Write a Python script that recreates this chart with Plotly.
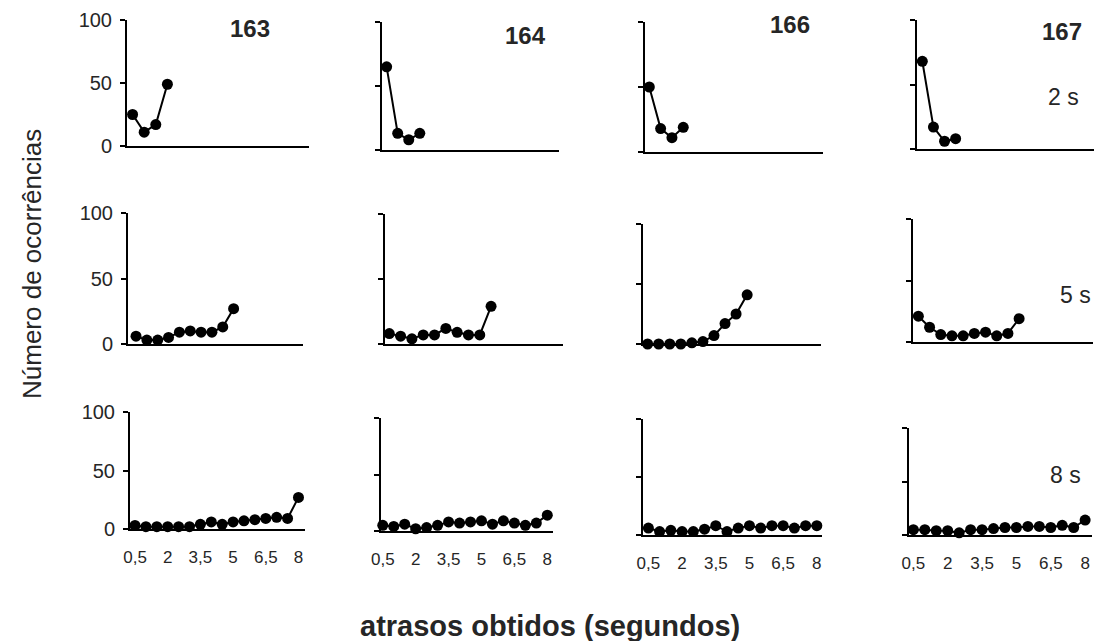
import plotly.graph_objects as go

W, H = 1097, 641

# ---------------- data ----------------
subjects = ["163", "164", "166", "167"]
delay_labels = ["2 s", "5 s", "8 s"]

x_2s = [0.5, 1, 1.5, 2]
x_5s = [0.5, 1, 1.5, 2, 2.5, 3, 3.5, 4, 4.5, 5]
x_8s = [0.5, 1, 1.5, 2, 2.5, 3, 3.5, 4, 4.5, 5, 5.5, 6, 6.5, 7, 7.5, 8]

y_163_2s = [25, 11, 17, 49]
y_164_2s = [65, 13, 8, 13]
y_166_2s = [50, 18, 11, 19]
y_167_2s = [68, 17, 6, 8]

y_163_5s = [6, 3, 3, 5, 9, 10, 9, 9, 13, 27]
y_164_5s = [8, 6, 4, 7, 7, 12, 9, 7, 7, 29]
y_166_5s = [0, 0, 0, 0, 1, 2, 7, 17, 25, 41]
y_167_5s = [21, 12, 6, 5, 5, 7, 8, 5, 7, 19]

y_163_8s = [3, 2, 2, 2, 2, 2, 4, 6, 4, 6, 7, 8, 9, 10, 9, 27]
y_164_8s = [5, 4, 6, 2, 3, 5, 8, 7, 8, 9, 6, 9, 7, 5, 7, 14]
y_166_8s = [6, 3, 4, 3, 3, 5, 8, 3, 6, 8, 6, 8, 8, 6, 8, 8]
y_167_8s = [5, 5, 4, 4, 2, 5, 5, 6, 7, 7, 8, 8, 7, 9, 7, 14]

y_tickvals = [0, 50, 100]
y_ticktext = ["0", "50", "100"]
x_tickvals = [0.5, 2, 3.5, 5, 6.5, 8]
x_ticktext = ["0,5", "2", "3,5", "5", "6,5", "8"]

panels = [
    [(x_2s, y_163_2s), (x_2s, y_164_2s), (x_2s, y_166_2s), (x_2s, y_167_2s)],
    [(x_5s, y_163_5s), (x_5s, y_164_5s), (x_5s, y_166_5s), (x_5s, y_167_5s)],
    [(x_8s, y_163_8s), (x_8s, y_164_8s), (x_8s, y_166_8s), (x_8s, y_167_8s)],
]

# ---------------- layout (pixel boxes: left, right, top, bottom) ----------------
boxes = [
    [(127, 309, 20, 146), (382, 559, 22, 150), (645, 823, 22, 152), (917, 1094, 20, 149)],
    [(128, 303, 213, 344), (385, 563, 214, 344), (643, 821, 224, 344), (913, 1093, 219, 342)],
    [(130, 305, 412, 529), (381, 553, 418, 531), (643, 822, 419, 535), (909, 1092, 428, 535)],
]
xranges = [
    [(0.26, 8.1), (0.29, 8.3), (0.31, 8.17), (0.26, 8.23)],
    [(0.13, 8.2), (0.31, 8.18), (0.29, 8.34), (0.26, 8.3)],
    [(0.27, 8.3), (0.42, 8.26), (0.26, 8.23), (0.31, 8.3)],
]

FONT = "Liberation Sans, Arial, sans-serif"
TXT = "#262626"

fig = go.Figure()
layout = dict(
    template="none",
    width=W, height=H, autosize=False,
    margin=dict(l=0, r=0, t=0, b=0, pad=0, autoexpand=False),
    paper_bgcolor="white", plot_bgcolor="white",
    showlegend=False,
    font=dict(family=FONT, color=TXT),
)

idx = 0
for r in range(3):
    for c in range(4):
        idx += 1
        xs, ys = panels[r][c]
        xa = "x" if idx == 1 else f"x{idx}"
        ya = "y" if idx == 1 else f"y{idx}"
        fig.add_trace(go.Scatter(
            x=xs, y=ys, xaxis=xa, yaxis=ya, mode="lines+markers",
            line=dict(color="black", width=2),
            marker=dict(color="black", size=11),
            cliponaxis=False,
        ))
        l, rr, t, b = boxes[r][c]
        xkey = "xaxis" if idx == 1 else f"xaxis{idx}"
        ykey = "yaxis" if idx == 1 else f"yaxis{idx}"
        layout[xkey] = dict(
            domain=[l / W, rr / W], anchor=ya, range=list(xranges[r][c]),
            automargin=False,
            showline=True, linecolor="black", linewidth=2,
            showgrid=False, zeroline=False, ticks="",
            tickvals=x_tickvals if r == 2 else [],
            ticktext=x_ticktext if r == 2 else [],
            showticklabels=(r == 2),
            tickfont=dict(size=17, color=TXT, family=FONT),
            ticklabelstandoff=12,
        )
        layout[ykey] = dict(
            domain=[1 - b / H, 1 - t / H], anchor=xa, range=[0, 100],
            automargin=False,
            showline=True, linecolor="black", linewidth=2,
            showgrid=False, zeroline=False,
            ticks="outside", ticklen=5, tickwidth=2, tickcolor="black",
            tickvals=y_tickvals, ticktext=y_ticktext,
            showticklabels=(c == 0),
            tickfont=dict(size=20, color=TXT, family=FONT),
            ticklabelstandoff=4,
        )

annotations = []
subj_pos = [(250, 28), (525, 35), (790, 24), (1062, 31)]
for s, (px, py) in zip(subjects, subj_pos):
    annotations.append(dict(
        text=f"<b>{s}</b>", x=px / W, y=1 - py / H, xref="paper", yref="paper",
        showarrow=False, xanchor="center", yanchor="middle",
        font=dict(size=24, color=TXT, family=FONT)))
delay_pos = [(1063, 97), (1075, 295), (1065, 475)]
for d, (px, py) in zip(delay_labels, delay_pos):
    annotations.append(dict(
        text=d, x=px / W, y=1 - py / H, xref="paper", yref="paper",
        showarrow=False, xanchor="center", yanchor="middle",
        font=dict(size=23, color=TXT, family=FONT)))
annotations.append(dict(
    text="Número de ocorrências", x=32 / W, y=1 - 264 / H, xref="paper", yref="paper",
    showarrow=False, xanchor="center", yanchor="middle", textangle=-90,
    font=dict(size=26, color=TXT, family=FONT)))
annotations.append(dict(
    text="<b>atrasos obtidos (segundos)</b>", x=550 / W, y=1 - 626 / H,
    xref="paper", yref="paper", showarrow=False, xanchor="center", yanchor="middle",
    font=dict(size=29, color=TXT, family=FONT)))
layout["annotations"] = annotations

fig.update_layout(**layout)
fig.write_html("out.html",
               post_script="document.body.style.margin='0';document.body.style.padding='0';")
